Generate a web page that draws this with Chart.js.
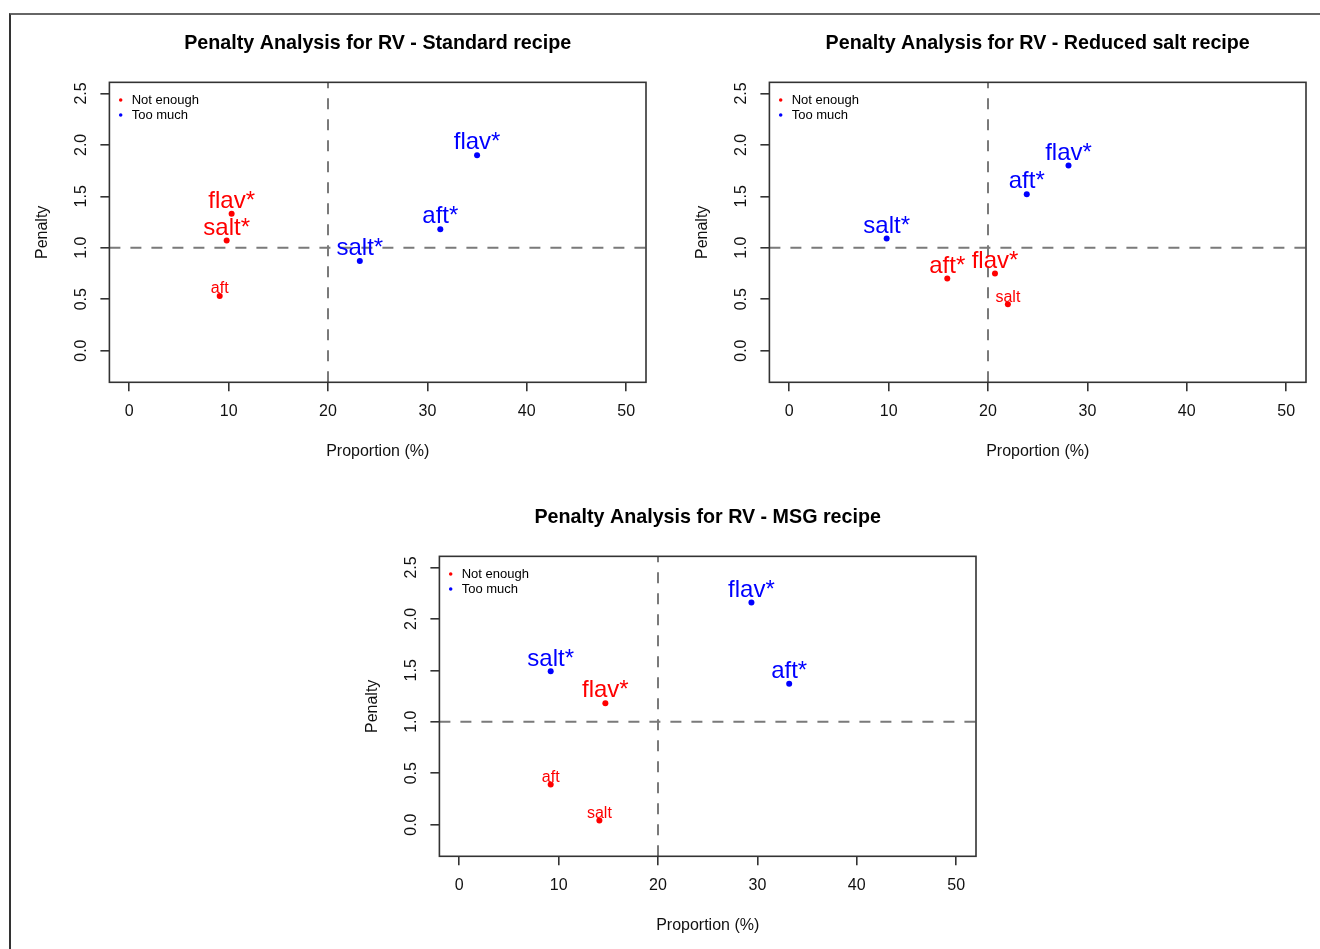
<!DOCTYPE html>
<html>
<head>
<meta charset="utf-8">
<script src="https://cdn.jsdelivr.net/npm/chart.js@4.4.1/dist/chart.umd.min.js"></script>
<style>
  html, body { margin: 0; padding: 0; background: #fff; width: 1320px; height: 949px; overflow: hidden; }
  #frame { position: absolute; left: 9px; top: 13px; width: 1400px; height: 1000px;
           border-top: 2px solid #666; border-left: 2px solid #333; }
  canvas { position: absolute; }
</style>
</head>
<body>
<div id="frame"></div>
<canvas id="c1" width="660" height="470" style="left:0px;top:0px"></canvas>
<canvas id="c2" width="660" height="470" style="left:660px;top:0px"></canvas>
<canvas id="c3" width="660" height="470" style="left:330px;top:474px"></canvas>
<script>
// ---------------- data ----------------
const panelTitles = [
  'Penalty Analysis for RV - Standard recipe',
  'Penalty Analysis for RV - Reduced salt recipe',
  'Penalty Analysis for RV - MSG recipe'
];
const seriesNames = ['Not enough', 'Too much'];
const seriesColors = ['#FF0000', '#0000FF'];
const attributes = ['flav', 'salt', 'aft'];

// Standard recipe
const stdNotEnoughX = [10.3, 9.8, 9.1];
const stdNotEnoughY = [1.33, 1.07, 0.53];
const stdNotEnoughSig = [true, true, false];
const stdTooMuchX = [35.0, 23.2, 31.3];
const stdTooMuchY = [1.90, 0.87, 1.18];
const stdTooMuchSig = [true, true, true];

// Reduced salt recipe
const redNotEnoughX = [20.7, 22.0, 15.9];
const redNotEnoughY = [0.75, 0.45, 0.70];
const redNotEnoughSig = [true, false, true];
const redTooMuchX = [28.1, 9.8, 23.9];
const redTooMuchY = [1.80, 1.09, 1.52];
const redTooMuchSig = [true, true, true];

// MSG recipe
const msgNotEnoughX = [14.7, 14.1, 9.2];
const msgNotEnoughY = [1.18, 0.04, 0.39];
const msgNotEnoughSig = [true, false, false];
const msgTooMuchX = [29.4, 9.2, 33.2];
const msgTooMuchY = [2.16, 1.49, 1.37];
const msgTooMuchSig = [true, true, true];

const xTicks = [0, 10, 20, 30, 40, 50];
const yTicks = [0.0, 0.5, 1.0, 1.5, 2.0, 2.5];
const xRange = [-2, 52];
const yRange = [-0.308, 2.608];
const xCut = 20;
const yCut = 1;
const xTitle = 'Proportion (%)';
const yTitle = 'Penalty';

// ---------------- chart ----------------
const FONT = "'Liberation Sans', Arial, Helvetica, sans-serif";

function pts(xs, ys) { return xs.map((x, i) => ({ x: x, y: ys[i] })); }
function labs(sig) { return attributes.map((a, i) => a + (sig[i] ? '*' : '')); }

const pointLabels = {
  id: 'pointLabels',
  afterDatasetsDraw(chart) {
    const ctx = chart.ctx;
    chart.data.datasets.forEach((ds, di) => {
      if (!ds.pointLabelText) return;
      const meta = chart.getDatasetMeta(di);
      meta.data.forEach((el, i) => {
        const big = ds.pointLabelBig[i];
        const size = big ? 24 : 16;
        ctx.save();
        ctx.font = size + 'px ' + FONT;
        ctx.fillStyle = ds.backgroundColor;
        ctx.textAlign = 'center';
        ctx.textBaseline = 'alphabetic';
        ctx.fillText(ds.pointLabelText[i], el.x, el.y - size * (big ? 0.24 : 0.17));
        ctx.restore();
      });
    });
  }
};

const boxPlugin = {
  id: 'boxPlugin',
  afterLayout(chart) {
    const l = chart.legend, a = chart.chartArea;
    if (l) {
      l.left = a.left + 4.8; l.right = a.right + 4.8;
      l.top = a.top; l.bottom = a.bottom;
    }
  },
  afterDatasetsDraw(chart) {
    const a = chart.chartArea, ctx = chart.ctx;
    ctx.save();
    ctx.strokeStyle = '#333';
    ctx.lineWidth = 1.6;
    ctx.strokeRect(a.left, a.top, a.right - a.left, a.bottom - a.top);
    ctx.restore();
  }
};

function makeChart(id, title, neX, neY, neSig, tmX, tmY, tmSig) {
  const refLine = (data) => ({
    type: 'line', data: data, borderColor: '#7a7a7a', borderWidth: 2,
    borderDash: [11, 10], pointRadius: 0, showLine: true, fill: false, order: 2, label: 'ref'
  });
  new Chart(document.getElementById(id), {
    type: 'scatter',
    data: {
      datasets: [
        { label: seriesNames[0], data: pts(neX, neY), backgroundColor: seriesColors[0],
          borderColor: seriesColors[0], borderWidth: 0, pointRadius: 3, pointHoverRadius: 3,
          pointStyle: 'circle', order: 1, pointLabelText: labs(neSig), pointLabelBig: neSig },
        { label: seriesNames[1], data: pts(tmX, tmY), backgroundColor: seriesColors[1],
          borderColor: seriesColors[1], borderWidth: 0, pointRadius: 3, pointHoverRadius: 3,
          pointStyle: 'circle', order: 1, pointLabelText: labs(tmSig), pointLabelBig: tmSig },
        refLine([{ x: xCut, y: yRange[0] }, { x: xCut, y: yRange[1] }]),
        refLine([{ x: xRange[0], y: yCut }, { x: xRange[1], y: yCut }])
      ]
    },
    options: {
      responsive: false,
      animation: false,
      events: [],
      layout: { padding: { left: 0, top: 0, right: 14, bottom: 7.7 } },
      plugins: {
        tooltip: { enabled: false },
        title: {
          display: true, text: title, color: '#000', fullSize: false,
          font: { family: FONT, size: 19.7, weight: 'bold' },
          padding: { top: 31.3, bottom: 27.4 }
        },
        legend: {
          display: true, position: 'chartArea', align: 'start',
          title: { display: true, text: '', font: { size: 1, lineHeight: 1 }, padding: { top: 8.2, bottom: 0 } },
          labels: {
            usePointStyle: true, pointStyle: 'circle', boxWidth: 9, boxHeight: 2.5, padding: 2,
            color: '#000', font: { family: FONT, size: 13 },
            filter: (item) => item.datasetIndex < 2
          }
        }
      },
      scales: {
        x: {
          type: 'linear', min: xRange[0], max: xRange[1],
          afterBuildTicks: (s) => { s.ticks = xTicks.map(v => ({ value: v })); },
          afterFit: (s) => { s.height = 80; },
          border: { display: false },
          grid: { drawOnChartArea: false, drawTicks: true, tickLength: 9, color: '#333', lineWidth: 1.6 },
          ticks: { color: '#111', font: { family: FONT, size: 16 }, padding: 10.8, maxRotation: 0, autoSkip: false,
                   callback: (v) => String(v) },
          title: { display: true, text: xTitle, color: '#111', font: { family: FONT, size: 16 },
                   padding: { top: 0, bottom: 1.0 } }
        },
        y: {
          type: 'linear', min: yRange[0], max: yRange[1],
          afterBuildTicks: (s) => { s.ticks = yTicks.map(v => ({ value: v })); },
          afterFit: (s) => { s.width = 109.4; },
          border: { display: false },
          grid: { drawOnChartArea: false, drawTicks: true, tickLength: 9, color: '#333', lineWidth: 1.6 },
          ticks: { color: '#111', font: { family: FONT, size: 16 }, padding: 8, minRotation: 90, maxRotation: 90,
                   crossAlign: 'center', autoSkip: false, callback: (v) => Number(v).toFixed(1) },
          title: { display: true, text: yTitle, color: '#111', font: { family: FONT, size: 16 },
                   padding: { top: 32.9, bottom: 0 } }
        }
      }
    },
    plugins: [pointLabels, boxPlugin]
  });
}

makeChart('c1', panelTitles[0], stdNotEnoughX, stdNotEnoughY, stdNotEnoughSig, stdTooMuchX, stdTooMuchY, stdTooMuchSig);
makeChart('c2', panelTitles[1], redNotEnoughX, redNotEnoughY, redNotEnoughSig, redTooMuchX, redTooMuchY, redTooMuchSig);
makeChart('c3', panelTitles[2], msgNotEnoughX, msgNotEnoughY, msgNotEnoughSig, msgTooMuchX, msgTooMuchY, msgTooMuchSig);
</script>
</body>
</html>
